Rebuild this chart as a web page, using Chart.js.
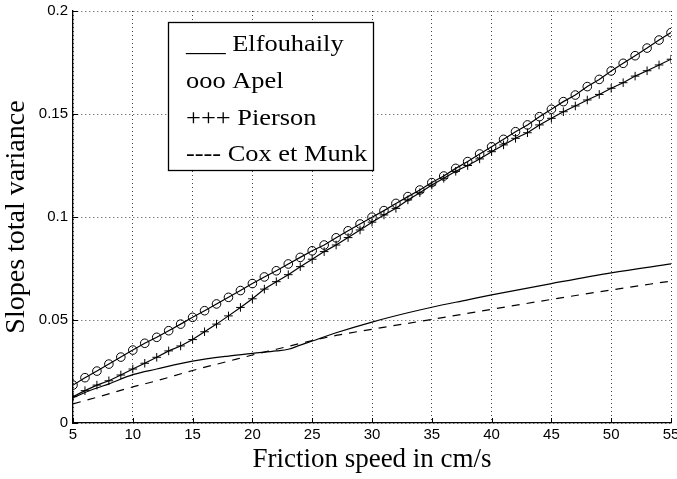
<!DOCTYPE html>
<html>
<head>
<meta charset="utf-8">
<script src="https://cdn.jsdelivr.net/npm/chart.js@4.4.0/dist/chart.umd.min.js"></script>
<style>
  html, body { margin: 0; padding: 0; background: #fff; }
  #wrap { width: 677px; height: 479px; }
</style>
</head>
<body>
<div id="wrap"><canvas id="c" width="677" height="479"></canvas></div>
<script>
// Friction speed (cm/s) at which the marked spectra are sampled
const frictionSpeed = [5,6,7,8,9,10,11,12,13,14,15,16,17,18,19,20,21,22,23,24,25,26,27,28,29,30,
  31,32,33,34,35,36,37,38,39,40,41,42,43,44,45,46,47,48,49,50,51,52,53,54,55];

// Slopes total variance per spectrum
const apelVariance = [0.0184,0.0220,0.0252,0.0286,0.0320,0.0354,0.0387,0.0416,0.0448,0.0480,
  0.0513,0.0545,0.0578,0.0610,0.0643,0.0677,0.0709,0.0739,0.0772,0.0804,
  0.0836,0.0864,0.0899,0.0933,0.0966,0.0999,0.1031,0.1066,0.1099,0.1131,
  0.1167,0.1199,0.1236,0.1269,0.1306,0.1341,0.1377,0.1414,0.1447,0.1487,
  0.1523,0.1560,0.1592,0.1633,0.1668,0.1709,0.1746,0.1783,0.1820,0.1859,0.1895];

const piersonVariance = [0.0128,0.0157,0.0184,0.0205,0.0233,0.0262,0.0290,0.0319,0.0350,0.0374,
  0.0405,0.0443,0.0480,0.0520,0.0561,0.0603,0.0650,0.0686,0.0720,0.0759,
  0.0795,0.0832,0.0864,0.0900,0.0937,0.0975,0.1010,0.1042,0.1083,0.1118,
  0.1155,0.1188,0.1222,0.1250,0.1282,0.1317,0.1350,0.1382,0.1409,0.1447,
  0.1479,0.1511,0.1539,0.1568,0.1595,0.1625,0.1652,0.1684,0.1710,0.1738,0.1766];

const elfouhailySpeed = [5,6,7,8,10,12,15,18,20,22,23,24,25,27,30,33,35,38,40,45,50,55];
const elfouhailyVariance = [0.0122,0.0148,0.0170,0.0190,0.0235,0.0262,0.0300,0.0325,0.0338,0.0350,
  0.0358,0.0378,0.0398,0.0438,0.0490,0.0535,0.0562,0.0598,0.0622,0.0677,0.0729,0.0772];

const coxMunkSpeed = [5,7,10,12,15,18,20,22,25,27,30,35,40,45,50,55];
const coxMunkVariance = [0.0093,0.0125,0.0175,0.0205,0.0255,0.0300,0.0330,0.0358,0.0400,0.0425,
  0.0455,0.0503,0.0552,0.0600,0.0646,0.0689];

// Axis ticks and labels
const xTicks = [5,10,15,20,25,30,35,40,45,50,55];
const yTicks = [0,0.05,0.1,0.15,0.2];
const yTickLabels = ['0','0.05','0.1','0.15','0.2'];

// Legend lines as printed in the boxed key
const legendLines = ['___ Elfouhaily','ooo Apel','+++ Pierson','---- Cox et Munk'];

const pts = (xs, ys) => xs.map((x, i) => ({x: x, y: ys[i]}));

const SERIF = '"Liberation Serif", "Times New Roman", serif';
const SANS = '"Liberation Sans", Arial, sans-serif';

// Short tick marks pointing into the plot, like the axes of the original figure
const inwardTicks = {
  id: 'inwardTicks',
  afterDraw(chart) {
    const {ctx, chartArea: a, scales: {x, y}} = chart;
    ctx.save();
    ctx.strokeStyle = '#000';
    ctx.lineWidth = 1;
    ctx.beginPath();
    xTicks.forEach(v => {
      const px = Math.round(x.getPixelForValue(v)) + 0.5;
      ctx.moveTo(px, a.bottom); ctx.lineTo(px, a.bottom - 5);
    });
    yTicks.forEach(v => {
      const py = Math.round(y.getPixelForValue(v)) + 0.5;
      ctx.moveTo(a.left, py); ctx.lineTo(a.left + 5, py);
    });
    ctx.stroke();
    ctx.restore();
  }
};

// Boxed text key in the upper left of the plot
const boxedKey = {
  id: 'boxedKey',
  afterDraw(chart) {
    const {ctx} = chart;
    const bx = 168.5, by = 22.5, bw = 205, bh = 148;
    ctx.save();
    ctx.fillStyle = '#fff';
    ctx.fillRect(bx, by, bw, bh);
    ctx.strokeStyle = '#000';
    ctx.lineWidth = 1.3;
    ctx.strokeRect(bx, by, bw, bh);
    ctx.fillStyle = '#000';
    ctx.font = '24px ' + SERIF;
    ctx.textBaseline = 'alphabetic';
    const base = [51, 88, 125, 161];
    legendLines.forEach((t, i) => {
      ctx.save();
      ctx.translate(186, base[i]);
      ctx.scale(1.1, 1);
      ctx.fillText(t, 0, 0);
      ctx.restore();
    });
    ctx.restore();
  }
};

const lineBase = {
  borderColor: '#000',
  backgroundColor: 'rgba(0,0,0,0)',
  borderWidth: 1.2,
  fill: false,
  tension: 0
};

new Chart(document.getElementById('c'), {
  type: 'line',
  data: {
    datasets: [
      Object.assign({}, lineBase, {
        label: 'Elfouhaily',
        data: pts(elfouhailySpeed, elfouhailyVariance),
        pointRadius: 0,
        cubicInterpolationMode: 'monotone'
      }),
      Object.assign({}, lineBase, {
        label: 'Apel',
        data: pts(frictionSpeed, apelVariance),
        pointStyle: 'circle',
        pointRadius: 4.3,
        pointBorderWidth: 1,
        pointBorderColor: '#000',
        pointBackgroundColor: 'rgba(0,0,0,0)'
      }),
      Object.assign({}, lineBase, {
        label: 'Pierson',
        data: pts(frictionSpeed, piersonVariance),
        pointStyle: 'cross',
        pointRadius: 4.3,
        pointBorderWidth: 1,
        pointBorderColor: '#000'
      }),
      Object.assign({}, lineBase, {
        label: 'Cox et Munk',
        data: pts(coxMunkSpeed, coxMunkVariance),
        pointRadius: 0,
        borderDash: [8, 7],
        cubicInterpolationMode: 'monotone'
      })
    ]
  },
  options: {
    responsive: false,
    devicePixelRatio: 1,
    animation: false,
    layout: { padding: { left: 0, right: 6, top: 11, bottom: 0 } },
    plugins: {
      legend: { display: false },
      tooltip: { enabled: false }
    },
    scales: {
      x: {
        type: 'linear',
        min: 5,
        max: 55,
        afterBuildTicks: s => { s.ticks = xTicks.map(v => ({value: v})); },
        afterFit: s => {
          s.height = 56;
          s.paddingLeft = 0; s.paddingRight = 0; s.paddingTop = 0; s.paddingBottom = 0;
        },
        ticks: {
          autoSkip: false,
          maxRotation: 0,
          padding: 3,
          color: '#000',
          font: { family: SANS, size: 15 },
          callback: v => String(v)
        },
        grid: { color: '#444', lineWidth: 1, drawTicks: false },
        border: { display: true, color: '#000', width: 1.3, dash: [1, 3] },
        title: {
          display: true,
          text: 'Friction speed in cm/s',
          color: '#000',
          font: { family: SERIF, size: 27 },
          padding: { top: 0, bottom: 3 }
        }
      },
      y: {
        type: 'linear',
        min: 0,
        max: 0.2,
        afterBuildTicks: s => { s.ticks = yTicks.map(v => ({value: v})); },
        afterFit: s => {
          s.width = 73;
          s.paddingLeft = 0; s.paddingRight = 0; s.paddingTop = 0; s.paddingBottom = 0;
        },
        ticks: {
          padding: 5,
          color: '#000',
          font: { family: SANS, size: 15 },
          callback: (v, i) => yTickLabels[i]
        },
        grid: { color: '#444', lineWidth: 1, drawTicks: false },
        border: { display: true, color: '#000', width: 1.3, dash: [1, 3] },
        title: {
          display: true,
          text: 'Slopes total variance',
          color: '#000',
          font: { family: SERIF, size: 28 },
          padding: { top: 0, bottom: 0 }
        }
      }
    }
  },
  plugins: [inwardTicks, boxedKey]
});
</script>
</body>
</html>
